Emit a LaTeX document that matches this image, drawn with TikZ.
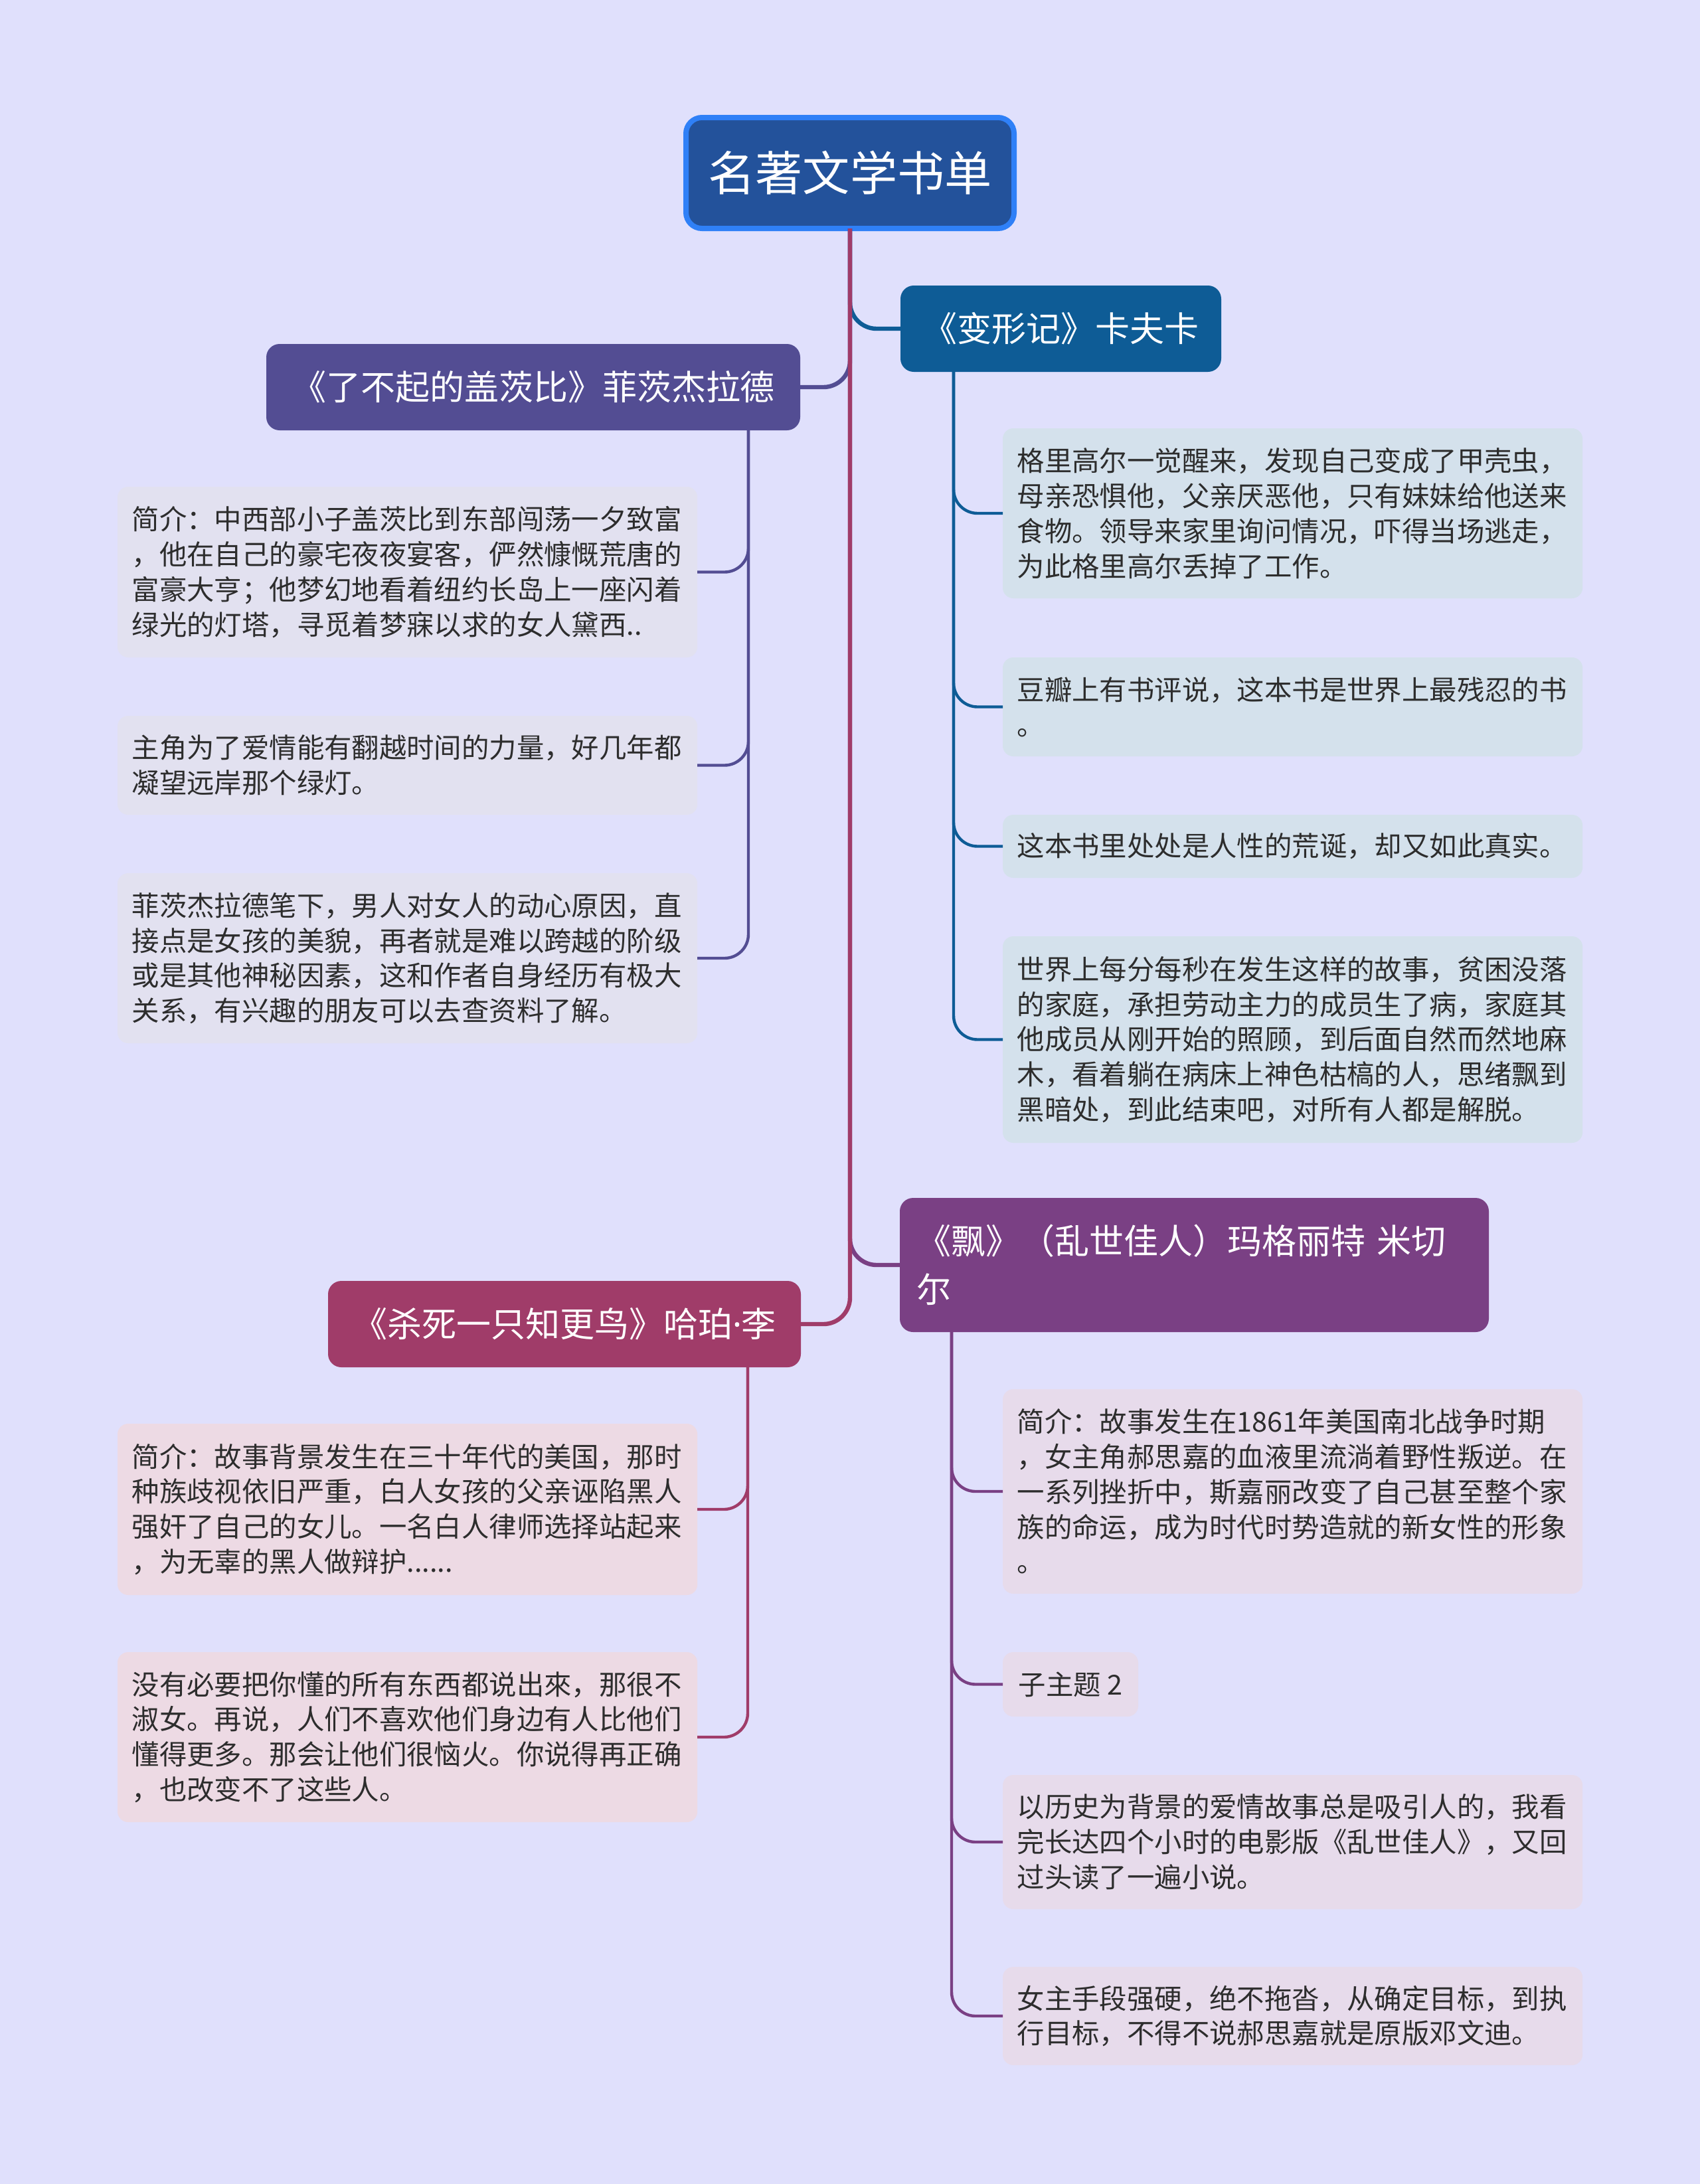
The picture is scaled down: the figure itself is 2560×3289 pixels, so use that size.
\documentclass[tikz,border=0pt]{standalone}
\usepackage{fontspec}
\setmainfont{Noto Sans CJK SC}
\newfontfamily\latinfont{Noto Sans}
\definecolor{bg}{RGB}{224,224,252}
\definecolor{rootfill}{RGB}{35,82,155}
\definecolor{rootborder}{RGB}{47,128,247}
\definecolor{kafkac}{RGB}{14,92,150}
\definecolor{gatsbyc}{RGB}{83,77,147}
\definecolor{piaoc}{RGB}{122,64,132}
\definecolor{mockc}{RGB}{160,60,105}
\definecolor{leafG}{RGB}{226,225,240}
\definecolor{leafK}{RGB}{212,225,236}
\definecolor{leafM}{RGB}{237,218,228}
\definecolor{leafP}{RGB}{231,219,235}
\definecolor{leaftext}{RGB}{45,45,45}
\begin{document}
\begin{tikzpicture}[x=0.25pt,y=-0.25pt,
  every node/.style={inner sep=0pt, outer sep=0pt},
  rootbox/.style={draw=rootborder, line width=2pt, fill=rootfill, rounded corners=6pt, text=white,
    font=\fontsize{17.8pt}{20pt}\selectfont, anchor=north west, minimum width=123.5pt, minimum height=41.75pt},
  branchbox/.style={fill=#1, rounded corners=5pt, text=white,
    font=\fontsize{13pt}{18.3pt}\selectfont, anchor=north west, minimum height=32.5pt},
  leafbox/.style={fill=#1, rounded corners=4pt, text=leaftext,
    font=\fontsize{10.35pt}{13.2pt}\selectfont, anchor=north west, inner xsep=5.4pt, text width=207.5pt, align=left},
  smallleaf/.style={fill=#1, rounded corners=4pt, text=leaftext,
    font=\fontsize{10.35pt}{13.2pt}\selectfont, anchor=north west, inner xsep=5.4pt, minimum width=51pt},
  conn/.style={draw=#1, line width=1.6pt, rounded corners=10pt},
  leafconn/.style={draw=#1, line width=1.1pt, rounded corners=9pt},
]
\fill[bg] (0,0) rectangle (2560,3289);
\useasboundingbox (0,0) rectangle (2560,3289);

% root
\node[rootbox] (root) at (1033,177) {名著文学书单};

% branches
\node[branchbox=kafkac, minimum width=120.75pt] (kafka) at (1356,430) {《变形记》卡夫卡};
\node[branchbox=gatsbyc, minimum width=201pt] (gatsby) at (401,518) {《了不起的盖茨比》菲茨杰拉德};
\node[branchbox=piaoc, minimum height=50.5pt, inner xsep=6.25pt, text width=209.25pt, align=left] (piao) at (1355,1804) {《飘》（乱世佳人）玛格丽特 米切\\尔};
\node[branchbox=mockc, minimum width=178pt] (mock) at (494,1929) {《杀死一只知更鸟》哈珀{\latinfont ·}李};

% gatsby leaves
\node[leafbox=leafG, minimum height=64.25pt] (L1) at (177,733) {简介：中西部小子盖茨比到东部闯荡一夕致富\\，他在自己的豪宅夜夜宴客，俨然慷慨荒唐的\\富豪大亨；他梦幻地看着纽约长岛上一座闪着\\绿光的灯塔，寻觅着梦寐以求的女人黛西..};
\node[leafbox=leafG, minimum height=37.25pt] (L2) at (177,1078) {主角为了爱情能有翻越时间的力量，好几年都\\凝望远岸那个绿灯。};
\node[leafbox=leafG, minimum height=64pt] (L3) at (177,1315) {菲茨杰拉德笔下，男人对女人的动心原因，直\\接点是女孩的美貌，再者就是难以跨越的阶级\\或是其他神秘因素，这和作者自身经历有极大\\关系，有兴趣的朋友可以去查资料了解。};

% kafka leaves
\node[leafbox=leafK, minimum height=64pt] (R1) at (1510,645) {格里高尔一觉醒来，发现自己变成了甲壳虫，\\母亲恐惧他，父亲厌恶他，只有妹妹给他送来\\食物。领导来家里询问情况，吓得当场逃走，\\为此格里高尔丢掉了工作。};
\node[leafbox=leafK, minimum height=37.25pt] (R2) at (1510,990) {豆瓣上有书评说，这本书是世界上最残忍的书\\。};
\node[leafbox=leafK, minimum height=23.75pt] (R3) at (1510,1227) {这本书里处处是人性的荒诞，却又如此真实。};
\node[leafbox=leafK, minimum height=77.75pt] (R4) at (1510,1410) {世界上每分每秒在发生这样的故事，贫困没落\\的家庭，承担劳动主力的成员生了病，家庭其\\他成员从刚开始的照顾，到后面自然而然地麻\\木，看着躺在病床上神色枯槁的人，思绪飘到\\黑暗处，到此结束吧，对所有人都是解脱。};

% mockingbird leaves
\node[leafbox=leafM, minimum height=64.5pt] (K1) at (177,2144) {简介：故事背景发生在三十年代的美国，那时\\种族歧视依旧严重，白人女孩的父亲诬陷黑人\\强奸了自己的女儿。一名白人律师选择站起来\\，为无辜的黑人做辩护......};
\node[leafbox=leafM, minimum height=64pt] (K2) at (177,2488) {没有必要把你懂的所有东西都说出來，那很不\\淑女。再说，人们不喜欢他们身边有人比他们\\懂得更多。那会让他们很恼火。你说得再正确\\，也改变不了这些人。};

% piao leaves
\node[leafbox=leafP, minimum height=77pt] (P1) at (1510,2092) {简介：故事发生在1861年美国南北战争时期\\，女主角郝思嘉的血液里流淌着野性叛逆。在\\一系列挫折中，斯嘉丽改变了自己甚至整个家\\族的命运，成为时代时势造就的新女性的形象\\。};
\node[smallleaf=leafP, minimum height=24.25pt] (P2) at (1510,2488) {子主题 2};
\node[leafbox=leafP, minimum height=50.5pt] (P3) at (1510,2673) {以历史为背景的爱情故事总是吸引人的，我看\\完长达四个小时的电影版《乱世佳人》，又回\\过头读了一遍小说。};
\node[leafbox=leafP, minimum height=37pt] (P4) at (1510,2962) {女主手段强硬，绝不拖沓，从确定目标，到执\\行目标，不得不说郝思嘉就是原版邓文迪。};

% branch connectors
\draw[conn=kafkac] (root.south) |- (kafka.west);
\draw[conn=gatsbyc] (root.south) |- (gatsby.east);
\draw[conn=piaoc] (root.south) |- (piao.west);
\draw[conn=mockc] (root.south) |- (mock.east);

% leaf connectors
\foreach \n in {L1,L2,L3}
  \draw[leafconn=gatsbyc] ([xshift=-19.5pt]gatsby.south east) |- (\n.east);
\foreach \n in {R1,R2,R3,R4}
  \draw[leafconn=kafkac] ([xshift=20pt]kafka.south west) |- (\n.west);
\foreach \n in {K1,K2}
  \draw[leafconn=mockc] ([xshift=-20pt]mock.south east) |- (\n.east);
\foreach \n in {P1,P2,P3,P4}
  \draw[leafconn=piaoc] ([xshift=19.5pt]piao.south west) |- (\n.west);
\end{tikzpicture}
\end{document}
